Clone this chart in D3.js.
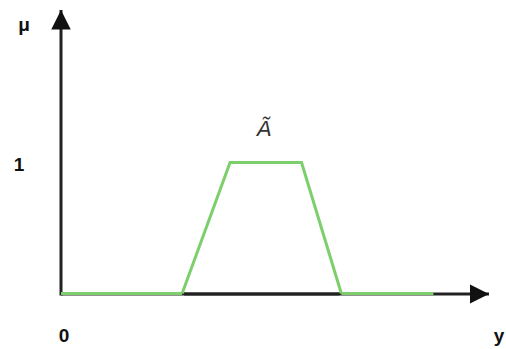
<!DOCTYPE html>
<html>
<head>
<meta charset="utf-8">
<script src="https://cdn.jsdelivr.net/npm/d3@7"></script>
<style>
  html, body { margin: 0; padding: 0; background: #fff; }
  svg { display: block; }
</style>
</head>
<body>
<svg id="chart" width="506" height="349"></svg>
<script>
// Trapezoidal membership function of the fuzzy set Ã
const ySupport = [0, 28.3, 39.5, 56.2, 65.5, 87];   // points along the y axis
const muValues = [0, 0, 1, 1, 0, 0];                 // membership degree at each point
const yTicks = ["0"];
const muTicks = ["1"];
const setLabel = "Ã";

const svg = d3.select("#chart");

const x = d3.scaleLinear().domain([0, 100]).range([61, 489]);
const y = d3.scaleLinear().domain([0, 1]).range([294, 163]);
const yTop = y.invert(10);

const green = "#7dcf6c";

// arrow heads for both axes
const defs = svg.append("defs");
defs.append("marker")
  .attr("id", "arrow")
  .attr("viewBox", "0 0 10 10")
  .attr("refX", 10).attr("refY", 5)
  .attr("markerWidth", 6.5).attr("markerHeight", 6.5)
  .attr("markerUnits", "strokeWidth")
  .attr("orient", "auto")
  .append("path")
  .attr("d", "M0,0 L10,5 L0,10 Z")
  .attr("fill", "#111");

// horizontal axis (y)
svg.append("line")
  .attr("x1", x(0)).attr("y1", y(0))
  .attr("x2", x(100)).attr("y2", y(0))
  .attr("stroke", "#222").attr("stroke-width", 3)
  .attr("marker-end", "url(#arrow)");

// vertical axis (μ)
svg.append("line")
  .attr("x1", x(0)).attr("y1", y(0) + 1.5)
  .attr("x2", x(0)).attr("y2", y(yTop))
  .attr("stroke", "#222").attr("stroke-width", 3)
  .attr("marker-end", "url(#arrow)");

const pts = ySupport.map((v, i) => [v, muValues[i]]);
const line = d3.line().x(d => x(d[0])).y(d => y(d[1]) - 0.5);

// left and right flat parts, then the raised trapezoid
svg.append("path")
  .attr("d", line(pts.slice(0, 2)))
  .attr("fill", "none").attr("stroke", green).attr("stroke-width", 3);
svg.append("path")
  .attr("d", line(pts.slice(1, 5)))
  .attr("fill", "none").attr("stroke", green).attr("stroke-width", 3)
  .attr("stroke-linejoin", "miter");
svg.append("path")
  .attr("d", line(pts.slice(4)))
  .attr("fill", "none").attr("stroke", green).attr("stroke-width", 3);

// redraw the axis under the trapezoid base
svg.append("line")
  .attr("x1", x(ySupport[1]) + 2).attr("y1", y(0))
  .attr("x2", x(ySupport[4]) - 2).attr("y2", y(0))
  .attr("stroke", "#222").attr("stroke-width", 3);

const font = "'Liberation Sans', Arial, sans-serif";

svg.append("text")
  .attr("x", 24).attr("y", 31)
  .attr("text-anchor", "middle")
  .attr("font-family", font).attr("font-weight", "bold").attr("font-size", 19)
  .attr("fill", "#111")
  .text("μ");

svg.selectAll("text.mutick").data(muTicks).join("text")
  .attr("class", "mutick")
  .attr("x", 19).attr("y", y(1) + 8)
  .attr("text-anchor", "middle")
  .attr("font-family", font).attr("font-weight", "bold").attr("font-size", 19)
  .attr("fill", "#111")
  .text(d => d);

svg.selectAll("text.ytick").data(yTicks).join("text")
  .attr("class", "ytick")
  .attr("x", x(0) + 3).attr("y", 342)
  .attr("text-anchor", "middle")
  .attr("font-family", font).attr("font-weight", "bold").attr("font-size", 19)
  .attr("fill", "#111")
  .text(d => d);

svg.append("text")
  .attr("x", 499).attr("y", 342)
  .attr("text-anchor", "middle")
  .attr("font-family", font).attr("font-weight", "bold").attr("font-size", 19)
  .attr("fill", "#111")
  .text("y");

svg.append("text")
  .attr("x", 264).attr("y", 136)
  .attr("text-anchor", "middle")
  .attr("font-family", font).attr("font-style", "italic").attr("font-size", 22)
  .attr("fill", "#333")
  .text(setLabel);
</script>
</body>
</html>
